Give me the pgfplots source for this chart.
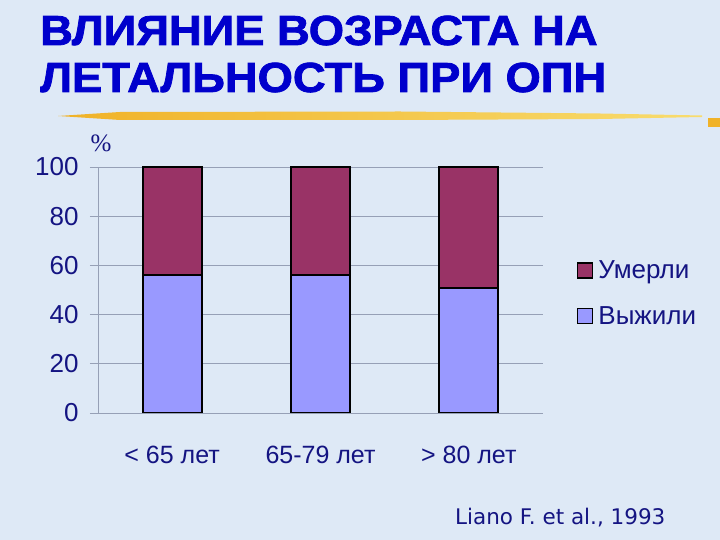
\documentclass[border=0pt]{standalone}
\usepackage{fontspec}
\setmainfont{Liberation Sans}
\newfontfamily\seriffont{Liberation Serif}
\newfontfamily\notefont{DejaVu Sans}
\newfontfamily\titlefont{Liberation Sans Bold}[FakeBold=1.8, FakeStretch=1.08]
\usepackage{pgfplots}
\pgfplotsset{compat=1.18}

\definecolor{bg}{RGB}{222,233,246}
\definecolor{navy}{RGB}{20,20,130}
\definecolor{titleblue}{RGB}{0,0,204}
\definecolor{gridc}{RGB}{150,160,182}
\definecolor{surv}{RGB}{153,153,255}
\definecolor{died}{RGB}{153,51,102}
\definecolor{stroke1}{RGB}{240,178,40}
\definecolor{stroke2}{RGB}{248,220,110}

\begin{document}
\begin{tikzpicture}[x=1bp,y=1bp]
% slide background
\fill[bg] (0,0) rectangle (720,540);
\useasboundingbox (0,0) rectangle (720,540);

% title
\node[anchor=base west, inner sep=0, text=titleblue,
      font=\titlefont\fontsize{42bp}{42bp}\selectfont] at (40,495) {ВЛИЯНИЕ ВОЗРАСТА НА};
\node[anchor=base west, inner sep=0, text=titleblue,
      font=\titlefont\fontsize{42bp}{42bp}\selectfont] at (40,448) {ЛЕТАЛЬНОСТЬ ПРИ ОПН};

% yellow brush stroke under the title
\shade[left color=stroke1, right color=stroke2]
  (58,424) -- (120,428) -- (400,428.5) -- (600,426.5) -- (702,424.5)
  -- (702,423) -- (600,421) -- (400,420) -- (120,420) -- cycle;
\fill[stroke1] (708,413) rectangle (720,422);

% unit label
\node[text=navy, font=\seriffont\fontsize{25bp}{25bp}\selectfont] at (101,397) {\%};

\begin{axis}[
    at={(98bp,127bp)}, anchor=south west,
    scale only axis, width=445bp, height=246bp,
    ybar stacked, bar width=59bp,
    xmin=-0.5, xmax=2.5, ymin=0, ymax=100,
    xtick={0,1,2},
    xticklabels={{< 65 лет},{65-79 лет},{> 80 лет}},
    ytick={0,20,40,60,80,100},
    axis x line=bottom, axis y line=left,
    axis line style={-, draw=gridc, line width=0.8bp},
    ymajorgrids, grid style={draw=gridc, line width=0.6bp},
    xtick style={draw=none},
    ytick style={draw=gridc, line width=0.8bp},
    tick align=outside, major tick length=8bp,
    /pgf/number format/assume math mode=true,
    tick label style={text=navy, font=\fontsize{26bp}{30bp}\selectfont},
    xticklabel style={anchor=base, yshift=-43bp, font=\fontsize{25bp}{30bp}\selectfont},
    yticklabel style={anchor=east, xshift=-8bp},
    reverse legend,
    legend cell align=left,
    legend style={draw=none, fill=none, at={(1.076,0.627)}, anchor=north west,
      text=navy, font=\fontsize{26bp}{30bp}\selectfont, row sep=22bp, inner sep=0pt,
      nodes={inner xsep=5bp}},
    legend image code/.code={\draw[#1, draw=black, line width=1.4bp] (0bp,-7.5bp) rectangle (15bp,7.5bp);},
]
\addplot[fill=surv, draw=black, line width=2bp] coordinates {(0,56) (1,56) (2,51)};
\addplot[fill=died, draw=black, line width=2bp] coordinates {(0,44) (1,44) (2,49)};
\legend{Выжили, Умерли}
\end{axis}

% source
\node[anchor=base west, inner sep=0, text=navy,
      font=\notefont\fontsize{21.5bp}{21.5bp}\selectfont] at (455,15) {Liano F. et al., 1993};
\end{tikzpicture}
\end{document}
